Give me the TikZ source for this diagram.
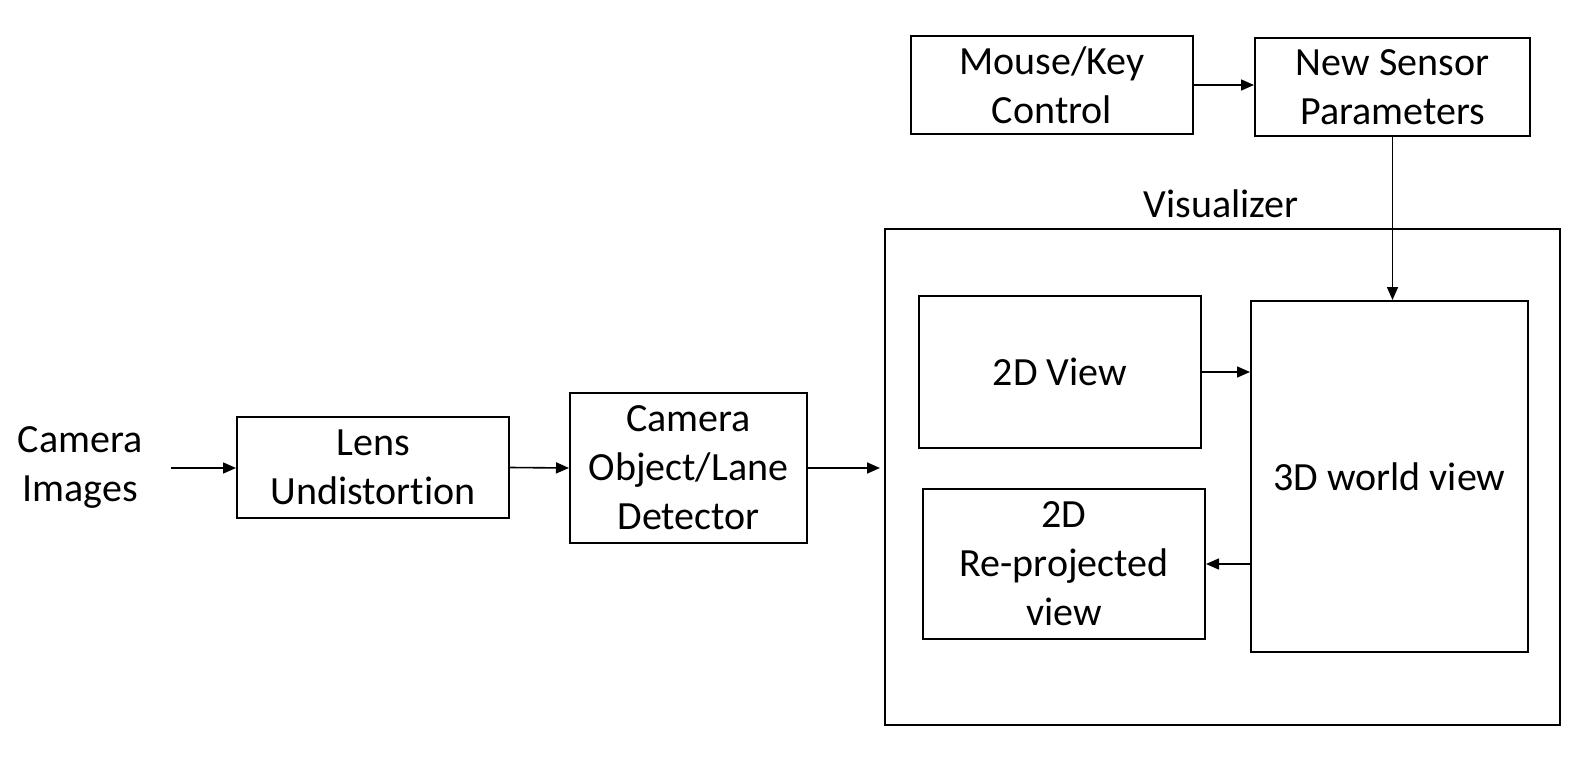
\documentclass[tikz,border=0pt]{standalone}
\usepackage{fontspec}
\setmainfont{Carlito}[Ligatures=NoCommon]
\usetikzlibrary{arrows.meta,calc}
\begin{document}
\begin{tikzpicture}[x=1pt,y=-1pt,
  every node/.style={font=\fontsize{40}{49}\selectfont, align=center, inner sep=0pt},
  box/.style={draw, line width=2pt, rectangle},
  arr/.style={line width=1.6pt, -{Triangle[length=13pt,width=11pt]}}]
\useasboundingbox (0,0) rectangle (1592,762);
\node (cam) at (80,467) {Camera\\Images};
\node[box, minimum width=272pt, minimum height=101pt] (lens) at (373,467.5) {Lens\\Undistort\kern0pt ion};
\node[box, minimum width=237pt, minimum height=150pt] (det) at (688.5,468) {Camera\\Object/Lane\\Detector};
\node[box, minimum width=675pt, minimum height=496pt] (vis) at (1222.5,477) {};
\node (vislabel) at (1221,204) {Visualizer};
\node[box, minimum width=282pt, minimum height=98pt] (mouse) at (1052,85) {Mouse/Key\\Control};
\node[box, minimum width=275pt, minimum height=98pt] (ns) at (1392.5,87) {New Sensor\\Parameters};
\node[box, minimum width=282pt, minimum height=152pt] (view) at (1060,372) {2D View};
\node[box, minimum width=277pt, minimum height=351pt] (world) at (1389.5,476.5) {3D world view};
\node[box, minimum width=282pt, minimum height=150pt] (reproj) at (1064,564) {2D\\Re-projected\\view};
\coordinate (camout) at (171,468);
\draw[arr] (camout) -- (lens.west |- camout);
\draw[arr] (lens.east) -- (det.west);
\draw[arr] (det.east) -- ($(det.east -| vis.west)+(-4,0)$);
\draw[arr] (mouse.east) -- (mouse.east -| ns.west);
\draw[arr] (ns.south) -- (ns.south |- world.north);
\draw[arr] (view.east) -- (view.east -| world.west);
\draw[arr] (reproj.east -| world.west) -- (reproj.east);
\end{tikzpicture}
\end{document}
